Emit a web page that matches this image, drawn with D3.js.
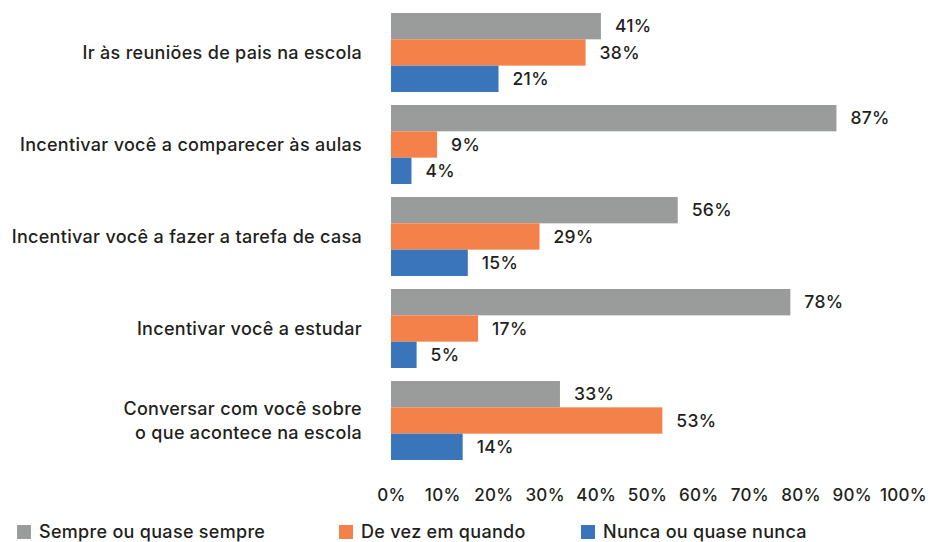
<!DOCTYPE html>
<html>
<head>
<meta charset="utf-8">
<script src="https://cdn.jsdelivr.net/npm/d3@7"></script>
<style>
  body { margin: 0; background: #fff; }
  svg text { font-family: Inter, "DejaVu Sans", sans-serif; font-weight: 500; fill: #231f20; }
</style>
</head>
<body>
<svg id="chart"></svg>
<script>
const categories = [
    ["Ir às reuniões de pais na escola"],
    ["Incentivar você a comparecer às aulas"],
    ["Incentivar você a fazer a tarefa de casa"],
    ["Incentivar você a estudar"],
    ["Conversar com você sobre", "o que acontece na escola"]
]
const seriesNames = ["Sempre ou quase sempre", "De vez em quando", "Nunca ou quase nunca"]
const sempre = [41, 87, 56, 78, 33]
const deVez = [38, 9, 29, 17, 53]
const nunca = [21, 4, 15, 5, 14]
const ticks = [0, 10, 20, 30, 40, 50, 60, 70, 80, 90, 100]
const colors = ["#9a9c9c", "#f4804a", "#3a75bb"]

const width = 931, height = 542
const margin = { top: 13, left: 391, right: 28, bottom: 82 }
const innerW = width - margin.left - margin.right

const series = [sempre, deVez, nunca]
const data = categories.map((c, i) => ({
    label: c,
    values: series.map((s, j) => ({ key: seriesNames[j], value: s[i], color: colors[j] }))
}))

const svg = d3.select('#chart')
    .attr('width', width)
    .attr('height', height)

const chart = svg.append('g')
    .attr('transform', `translate(${margin.left}, ${margin.top})`)

const xScale = d3.scaleLinear()
    .domain([0, 100])
    .range([0, innerW])

const y0 = d3.scaleBand()
    .domain(d3.range(categories.length))
    .range([0, 447])
    .paddingInner(0.1415)
    .paddingOuter(0)

const y1 = d3.scaleBand()
    .domain(seriesNames)
    .range([0, y0.bandwidth()])

const groups = chart.selectAll('.group')
    .data(data)
    .join('g')
    .attr('class', 'group')
    .attr('transform', (d, i) => `translate(0, ${y0(i)})`)

groups.selectAll('rect')
    .data(d => d.values)
    .join('rect')
    .attr('x', 0)
    .attr('y', d => y1(d.key))
    .attr('width', d => xScale(d.value))
    .attr('height', y1.bandwidth())
    .attr('fill', d => d.color)

groups.selectAll('.val')
    .data(d => d.values)
    .join('text')
    .attr('class', 'val')
    .attr('x', d => xScale(d.value) + 14)
    .attr('y', d => y1(d.key) + y1.bandwidth() / 2)
    .attr('dy', '0.36em')
    .style('font-size', '17.5px')
    .style('letter-spacing', '0.3px')
    .text(d => d.value + '%')

// category labels, multi-line ones are split in tspans
groups.append('text')
    .attr('text-anchor', 'end')
    .attr('x', -29)
    .attr('y', y0.bandwidth() / 2)
    .style('font-size', '18px')
    .style('letter-spacing', '0.3px')
    .selectAll('tspan')
    .data(d => d.label.map((t, k) => ({ t, k, n: d.label.length })))
    .join('tspan')
    .attr('x', -29)
    .attr('dy', d => d.k === 0 ? `${0.36 - (d.n - 1) * 0.66}em` : '1.32em')
    .text(d => d.t)

const xAxis = d3.axisBottom(xScale)
    .tickValues(ticks)
    .tickFormat(d => d + '%')
    .tickSize(0)
    .tickPadding(0)

chart.append('g')
    .attr('class', 'axis x-axis')
    .attr('transform', `translate(0, 477)`)
    .call(xAxis)
    .call(g => g.select('.domain').remove())
    .call(g => g.selectAll('text')
        .attr('dy', '0.36em')
        .attr('y', 5)
        .style('font-family', 'Inter, "DejaVu Sans", sans-serif')
        .style('font-size', '17px')
        .style('letter-spacing', '0.3px')
        .style('fill', '#231f20'))

// legend
const legendX = [17, 339, 581]
const legend = svg.append('g')
    .selectAll('g')
    .data(seriesNames)
    .join('g')
    .attr('transform', (d, i) => `translate(${legendX[i]}, 525)`)

legend.append('rect')
    .attr('width', 14)
    .attr('height', 14)
    .attr('fill', (d, i) => colors[i])

legend.append('text')
    .attr('x', 22)
    .attr('y', 7)
    .attr('dy', '0.36em')
    .style('font-size', '18px')
    .style('letter-spacing', '0.3px')
    .text(d => d)
</script>
</body>
</html>
